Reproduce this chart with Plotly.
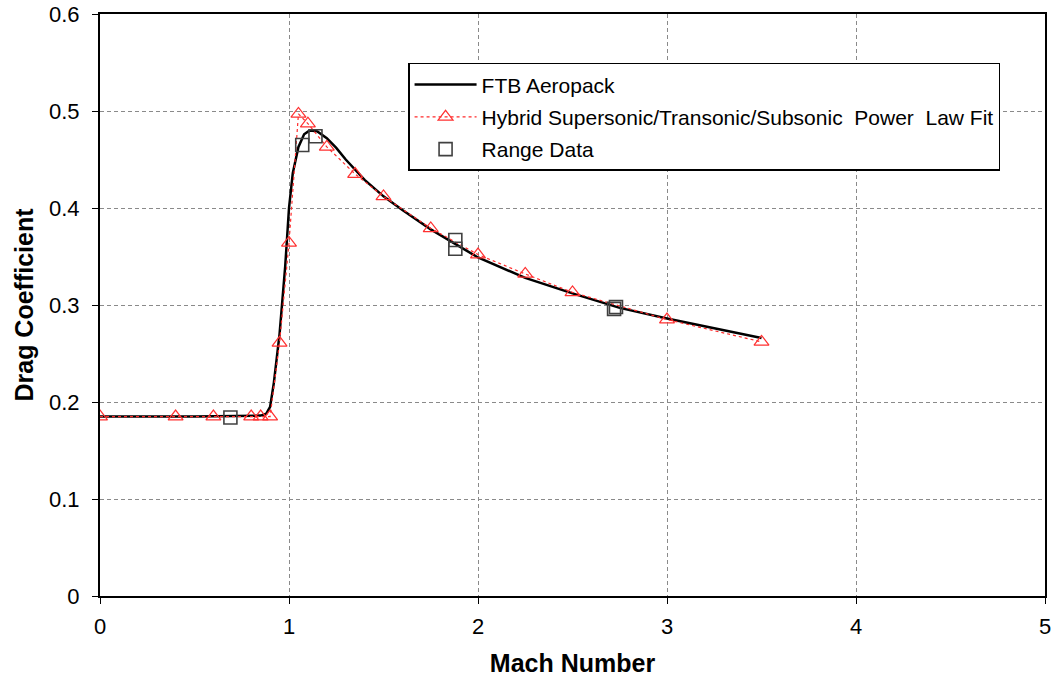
import plotly.graph_objects as go

# FTB Aeropack curve
ftb_mach = [0, 0.5, 0.85, 0.88, 0.9, 0.92, 0.95, 0.98, 1.0, 1.02, 1.05, 1.08, 1.11, 1.15,
            1.2, 1.25, 1.3, 1.36, 1.4, 1.5, 1.6, 1.75, 2.0, 2.25, 2.5, 2.75, 3.0, 3.25, 3.5]
ftb_cd = [0.185, 0.185, 0.186, 0.188, 0.195, 0.22, 0.27, 0.34, 0.40, 0.436, 0.463, 0.476,
          0.480, 0.479, 0.472, 0.462, 0.450, 0.437, 0.429, 0.412, 0.398, 0.378, 0.349, 0.328,
          0.312, 0.297, 0.286, 0.276, 0.266]

# Hybrid Supersonic/Transonic/Subsonic Power Law Fit
fit_mach = [0, 0.4, 0.6, 0.8, 0.85, 0.9, 0.95, 1.0, 1.05, 1.1, 1.2, 1.35, 1.5, 1.75,
            2.0, 2.25, 2.5, 3.0, 3.5]
fit_cd = [0.185, 0.185, 0.185, 0.185, 0.185, 0.185, 0.261, 0.364, 0.497, 0.487, 0.463,
          0.435, 0.412, 0.379, 0.352, 0.332, 0.313, 0.285, 0.262]

# Range data
range_mach = [0.69, 1.07, 1.14, 1.88, 1.88, 2.72, 2.73]
range_cd = [0.184, 0.465, 0.474, 0.358, 0.367, 0.296, 0.298]

FONT = "Liberation Sans, Arial, sans-serif"

fig = go.Figure()
fig.add_trace(go.Scatter(
    x=ftb_mach, y=ftb_cd, mode="lines", name="FTB Aeropack",
    line=dict(color="black", width=2.5), legendgroup="a"))
fig.add_trace(go.Scatter(
    x=fit_mach, y=fit_cd, mode="lines+markers",
    name="Hybrid Supersonic/Transonic/Subsonic  Power  Law Fit",
    line=dict(color="#ff2a2a", width=1.2, dash="dot"),
    marker=dict(symbol="triangle-up-open", size=13, color="#ff3030", line=dict(width=1.2)),
    legendgroup="b"))
fig.add_trace(go.Scatter(
    x=range_mach, y=range_cd, mode="markers", name="Range Data",
    marker=dict(symbol="square-open", size=13, color="#404040", line=dict(width=1.6)),
    legendgroup="c"))

axis_common = dict(
    showline=True, linecolor="black", linewidth=2, mirror=True,
    ticks="outside", ticklen=6, tickcolor="black", tickwidth=1,
    showgrid=True, gridcolor="#8a8a8a", gridwidth=1, griddash="4px,3px",
    zeroline=False, automargin=False,
    tickfont=dict(family=FONT, size=22, color="black"),
)

fig.update_xaxes(range=[0, 5], tickvals=[0, 1, 2, 3, 4, 5],
                 ticklabelstandoff=4,
                 title=dict(text="<b>Mach Number</b>", font=dict(family=FONT, size=25, color="black"),
                            standoff=16),
                 **axis_common)
fig.update_yaxes(range=[0, 0.6], tickvals=[0, 0.1, 0.2, 0.3, 0.4, 0.5, 0.6],
                 ticktext=["0", "0.1", "0.2", "0.3", "0.4", "0.5", "0.6"],
                 ticklabelstandoff=8,
                 title=dict(text="<b>Drag Coefficient</b>", font=dict(family=FONT, size=25, color="black"),
                            standoff=8),
                 **axis_common)

fig.update_layout(
    width=1053, height=681,
    margin=dict(l=100, r=8, t=14, b=85),
    paper_bgcolor="white", plot_bgcolor="white",
    font=dict(family=FONT, color="black"),
    legend=dict(x=0.326, y=0.916, xanchor="left", yanchor="top",
                bgcolor="white", bordercolor="black", borderwidth=1.5,
                font=dict(family=FONT, size=21, color="black"),
                tracegroupgap=2, traceorder="grouped", itemwidth=62),
    showlegend=True,
)

fig.write_html("out.html")
